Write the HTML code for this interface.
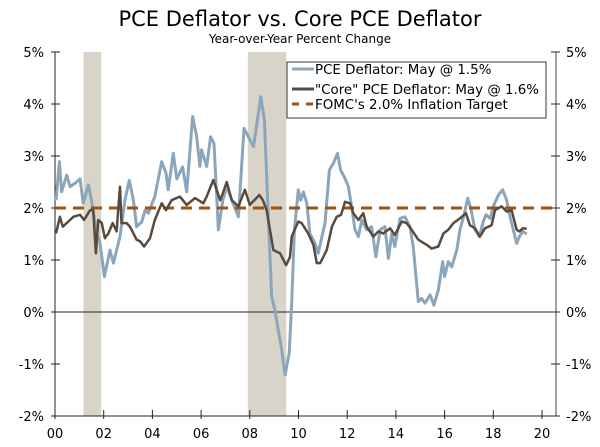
<!DOCTYPE html>
<html><head><meta charset="utf-8"><style>
body{margin:0;background:#fff}
svg{display:block;font-family:"DejaVu Sans","Liberation Sans",sans-serif}
</style></head><body>
<svg id="chart" width="600" height="447" viewBox="0 0 600 447" xmlns="http://www.w3.org/2000/svg">
<text x="300" y="26" text-anchor="middle" font-size="21">PCE Deflator vs. Core PCE Deflator</text>
<text x="300" y="43" text-anchor="middle" font-size="12">Year-over-Year Percent Change</text>
<g id="rec"></g>
<g id="grid"></g>
<g id="series"></g>
<g>
<rect x="287" y="62" width="259" height="56" fill="#fff" stroke="#333" stroke-width="1"/>
<line x1="292" y1="69" x2="314" y2="69" stroke="#8ba6ba" stroke-width="3"/>
<text x="315" y="74" font-size="13.4">PCE Deflator: May @ 1.5%</text>
<line x1="292" y1="89" x2="314" y2="89" stroke="#5a4a3d" stroke-width="3"/>
<text x="315" y="94" font-size="13.4">"Core" PCE Deflator: May @ 1.6%</text>
<line x1="292" y1="104" x2="314" y2="104" stroke="#a0520f" stroke-width="3" stroke-dasharray="7,7"/>
<text x="315" y="109" font-size="13.4">FOMC's 2.0% Inflation Target</text>
</g>
</svg>
<script>
const yTicks=[5,4,3,2,1,0,-1,-2];
const xTickYears=[2000,2002,2004,2006,2008,2010,2012,2014,2016,2018,2020];
const xTickLabels=["00","02","04","06","08","10","12","14","16","18","20"];
const recessions=[[2001.17,2001.9],[2007.92,2009.5]];
const target=2.0;
const pceYears=[2000.04,2000.18,2000.27,2000.48,2000.62,2000.89,2001.03,2001.16,2001.37,2001.5,2001.71,2001.85,2002.03,2002.26,2002.4,2002.67,2002.87,2003.05,2003.22,2003.35,2003.56,2003.7,2003.83,2004.1,2004.38,2004.56,2004.65,2004.86,2005.0,2005.24,2005.41,2005.65,2005.82,2005.95,2006.02,2006.23,2006.39,2006.53,2006.71,2006.89,2007.05,2007.26,2007.53,2007.76,2008.15,2008.45,2008.6,2008.76,2008.9,2009.03,2009.17,2009.31,2009.45,2009.62,2009.72,2009.83,2009.99,2010.09,2010.2,2010.34,2010.47,2010.68,2010.81,2011.09,2011.27,2011.43,2011.6,2011.73,2011.91,2012.05,2012.18,2012.32,2012.46,2012.6,2012.8,2013.0,2013.18,2013.35,2013.55,2013.69,2013.83,2013.96,2014.17,2014.37,2014.58,2014.71,2014.92,2015.06,2015.2,2015.4,2015.56,2015.74,2015.92,2016.0,2016.15,2016.29,2016.5,2016.63,2016.8,2016.95,2017.07,2017.25,2017.43,2017.59,2017.7,2017.87,2018.0,2018.21,2018.38,2018.55,2018.69,2018.82,2018.96,2019.07,2019.21,2019.37];
const pceValues=[2.15,2.89,2.31,2.63,2.41,2.5,2.56,2.09,2.44,2.15,1.52,1.33,0.68,1.19,0.94,1.45,2.15,2.53,2.15,1.64,1.73,1.96,1.9,2.22,2.89,2.67,2.35,3.05,2.56,2.79,2.31,3.76,3.37,2.8,3.12,2.8,3.37,3.24,1.58,2.15,2.41,2.15,1.83,3.53,3.18,4.14,3.69,1.83,0.29,0.04,-0.35,-0.73,-1.21,-0.79,0.17,1.58,2.35,2.15,2.31,2.09,1.51,1.32,1.13,1.71,2.73,2.86,3.05,2.73,2.57,2.41,2.03,1.58,1.45,1.77,1.58,1.64,1.06,1.58,1.64,1.03,1.51,1.26,1.8,1.83,1.64,1.26,0.2,0.26,0.17,0.33,0.13,0.42,0.97,0.68,0.97,0.87,1.19,1.58,1.87,2.19,2.0,1.58,1.45,1.74,1.87,1.8,2.03,2.25,2.35,2.15,1.83,1.58,1.32,1.45,1.55,1.5];
const coreYears=[2000.04,2000.2,2000.32,2000.55,2000.75,2001.03,2001.19,2001.44,2001.57,2001.68,2001.78,2001.92,2002.05,2002.19,2002.37,2002.53,2002.67,2002.73,2002.94,2003.08,2003.35,2003.49,2003.66,2003.9,2004.1,2004.38,2004.56,2004.79,2005.13,2005.41,2005.75,2006.09,2006.23,2006.5,2006.78,2006.89,2007.05,2007.26,2007.53,2007.8,2008.0,2008.39,2008.54,2008.69,2008.97,2009.24,2009.49,2009.65,2009.72,2009.99,2010.13,2010.4,2010.61,2010.75,2010.89,2011.16,2011.37,2011.57,2011.75,2011.91,2012.12,2012.25,2012.46,2012.66,2012.8,2013.07,2013.28,2013.48,2013.76,2013.96,2014.24,2014.44,2014.65,2014.92,2015.27,2015.47,2015.74,2015.95,2016.15,2016.36,2016.63,2016.88,2017.04,2017.25,2017.45,2017.66,2017.93,2018.07,2018.34,2018.55,2018.75,2018.96,2019.07,2019.21,2019.37];
const coreValues=[1.51,1.83,1.64,1.74,1.83,1.87,1.77,1.96,1.96,1.13,1.77,1.71,1.42,1.51,1.71,1.55,2.41,1.71,1.71,1.64,1.39,1.36,1.26,1.42,1.77,2.09,1.96,2.15,2.22,2.06,2.19,2.09,2.22,2.54,2.15,2.28,2.5,2.15,2.03,2.35,2.06,2.25,2.15,1.96,1.19,1.13,0.9,1.06,1.45,1.74,1.71,1.51,1.29,0.94,0.94,1.19,1.64,1.83,1.87,2.12,2.09,1.9,1.77,1.9,1.64,1.45,1.55,1.51,1.61,1.48,1.74,1.71,1.58,1.39,1.29,1.22,1.26,1.51,1.58,1.71,1.8,1.9,1.67,1.61,1.45,1.61,1.67,1.96,2.03,1.93,1.96,1.58,1.55,1.61,1.6];

const NS="http://www.w3.org/2000/svg";
const X0=55,PXY=24.35,Y0=312,PXP=52,LEFT=55,RIGHT=556,TOP=52,BOT=416;
const xs=y=>X0+(y-2000)*PXY;
const ys=v=>Y0-v*PXP;
function mk(tag,attrs,parent){const e=document.createElementNS(NS,tag);for(const k in attrs)e.setAttribute(k,attrs[k]);parent.appendChild(e);return e;}
const rec=document.getElementById('rec'),grid=document.getElementById('grid'),series=document.getElementById('series');
recessions.forEach(r=>{
  const e=mk('rect',{x:xs(r[0]),y:TOP,width:xs(r[1])-xs(r[0]),height:BOT-TOP,fill:'#d8d4c9'},rec);
  
  
});
let e=mk('line',{x1:LEFT,y1:TOP,x2:LEFT,y2:BOT,stroke:'#222','stroke-width':1},grid);

e=mk('line',{x1:RIGHT,y1:TOP,x2:RIGHT,y2:BOT,stroke:'#444','stroke-width':1},grid);

e=mk('line',{x1:LEFT,y1:BOT,x2:RIGHT,y2:BOT,stroke:'#222','stroke-width':1},grid);

e=mk('line',{x1:LEFT,y1:ys(0),x2:RIGHT,y2:ys(0),stroke:'#222','stroke-width':1},grid);

yTicks.forEach(v=>{
  const y=ys(v);
  let t=mk('line',{x1:LEFT-4,y1:y,x2:LEFT+5,y2:y,stroke:'#222'},grid);
  
  t=mk('line',{x1:RIGHT-5,y1:y,x2:RIGHT+4,y2:y,stroke:'#222'},grid);
  
  let l=mk('text',{x:LEFT-11,y:y+5,'text-anchor':'end','font-size':13},grid);l.textContent=v+'%';
  
  l=mk('text',{x:RIGHT+10,y:y+5,'font-size':13},grid);l.textContent=v+'%';
  
});
xTickYears.forEach((yr,i)=>{
  const x=xs(yr);
  let t=mk('line',{x1:x,y1:BOT-6,x2:x,y2:BOT+3,stroke:'#222'},grid);
  
  let l=mk('text',{x:x,y:BOT+22,'text-anchor':'middle','font-size':13},grid);l.textContent=xTickLabels[i];
  
});
function path(yrs,vals){return yrs.map((y,i)=>(i?'L':'M')+xs(y).toFixed(1)+','+ys(vals[i]).toFixed(1)).join(' ');}
e=mk('path',{d:path(pceYears,pceValues),fill:'none',stroke:'#8ba6ba','stroke-width':3,'stroke-linejoin':'round'},series);

e=mk('line',{x1:LEFT,y1:ys(target),x2:RIGHT,y2:ys(target),stroke:'#a0520f','stroke-width':3,'stroke-dasharray':'11,7'},series);

e=mk('path',{d:path(coreYears,coreValues),fill:'none',stroke:'#5a4a3d','stroke-width':2.5,'stroke-linejoin':'round'},series);

</script>
</body></html>
